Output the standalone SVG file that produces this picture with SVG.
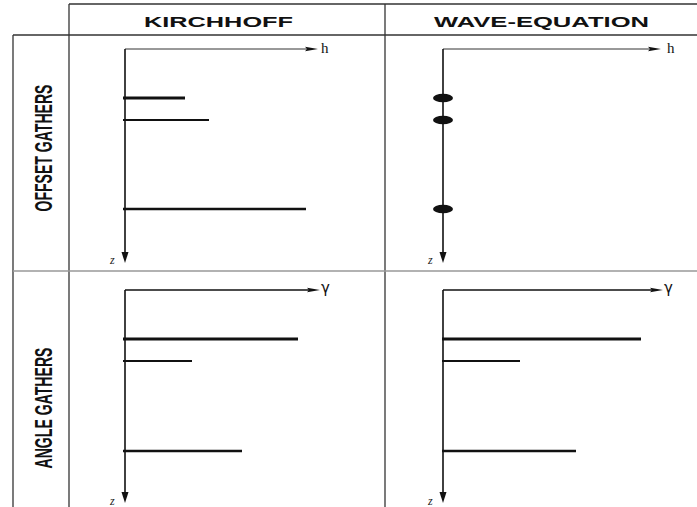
<svg xmlns="http://www.w3.org/2000/svg" width="697" height="507" viewBox="0 0 697 507">
<style>
.grid{stroke:#333;stroke-width:1.3;fill:none}
.sep{stroke:#999;stroke-width:1.3;fill:none}
.ax{stroke:#111;stroke-width:1.6;fill:none}
.axt{stroke:#333;stroke-width:1;fill:none}
.ev{stroke:#111;fill:none}
.hdr{font-family:"Liberation Sans",Arial,sans-serif;font-weight:bold;font-size:14.5px;fill:#111}
.side{font-family:"Liberation Sans",Arial,sans-serif;font-weight:bold;font-size:23px;fill:#111}
.lab{font-family:"Liberation Serif","Times New Roman",serif;font-size:15px;fill:#111}
.lg{font-family:"DejaVu Sans",sans-serif;font-size:15px;fill:#111}
.lz{font-family:"Liberation Serif","Times New Roman",serif;font-style:italic;font-size:12px;fill:#222}
.head{fill:#111}
</style>
<g id="grid">
<line class="grid" x1="69" y1="4" x2="697" y2="4"/>
<line class="grid" x1="13" y1="35" x2="697" y2="35"/>
<line class="grid" x1="13" y1="35" x2="13" y2="507"/>
<line class="grid" x1="69" y1="4" x2="69" y2="507"/>
<line class="grid" x1="385" y1="4" x2="385" y2="507"/>
<line class="sep" x1="13" y1="271" x2="697" y2="271"/>
</g>
<g id="headers">
<text class="hdr" x="144" y="27" textLength="149" lengthAdjust="spacingAndGlyphs">KIRCHHOFF</text>
<text class="hdr" x="434" y="27" textLength="215" lengthAdjust="spacingAndGlyphs">WAVE-EQUATION</text>
<text class="side" transform="translate(52,148) rotate(-90)" text-anchor="middle" textLength="127" lengthAdjust="spacingAndGlyphs">OFFSET GATHERS</text>
<text class="side" transform="translate(52,408) rotate(-90)" text-anchor="middle" textLength="121" lengthAdjust="spacingAndGlyphs">ANGLE GATHERS</text>
</g>
<g id="kirchhoff-offset">
<line class="axt" x1="125" y1="49" x2="308" y2="49"/>
<polygon class="head" points="305,46.8 318,49 305,51.2 307,49"/>
<text class="lab" x="321" y="53">h</text>
<line class="ax" x1="125" y1="49" x2="125" y2="254"/>
<polygon class="head" points="121.5,252 128.5,252 125,263"/>
<text class="lz" x="110" y="264">z</text>
<line class="ev" stroke-width="3" x1="123" y1="98" x2="185" y2="98"/>
<line class="ev" stroke-width="2" x1="123" y1="120" x2="209" y2="120"/>
<line class="ev" stroke-width="2.5" x1="123" y1="209" x2="306" y2="209"/>
</g>
<g id="wave-offset">
<line class="axt" x1="443" y1="49" x2="651" y2="49"/>
<polygon class="head" points="648,46.8 661,49 648,51.2 650,49"/>
<text class="lab" x="667" y="53">h</text>
<line class="ax" x1="443" y1="49" x2="443" y2="254"/>
<polygon class="head" points="439.5,252 446.5,252 443,263"/>
<text class="lz" x="428" y="264">z</text>
<ellipse class="head" cx="443" cy="98" rx="10" ry="4.3"/>
<ellipse class="head" cx="443" cy="120" rx="10" ry="4.3"/>
<ellipse class="head" cx="443" cy="209" rx="10" ry="4.3"/>
</g>
<g id="kirchhoff-angle">
<line class="ax" x1="125" y1="290" x2="310" y2="290"/>
<polygon class="head" points="307,287.8 320,290 307,292.2 309,290"/>
<text class="lg" x="321" y="293">γ</text>
<line class="ax" x1="125" y1="290" x2="125" y2="494"/>
<polygon class="head" points="121.5,492 128.5,492 125,503"/>
<text class="lz" x="110" y="505">z</text>
<line class="ev" stroke-width="3" x1="123" y1="339" x2="298" y2="339"/>
<line class="ev" stroke-width="2" x1="123" y1="361" x2="192" y2="361"/>
<line class="ev" stroke-width="2.5" x1="123" y1="451" x2="242" y2="451"/>
</g>
<g id="wave-angle">
<line class="ax" x1="443" y1="290" x2="653" y2="290"/>
<polygon class="head" points="650,287.8 663,290 650,292.2 652,290"/>
<text class="lg" x="664" y="293">γ</text>
<line class="ax" x1="443" y1="290" x2="443" y2="494"/>
<polygon class="head" points="439.5,492 446.5,492 443,503"/>
<text class="lz" x="428" y="505">z</text>
<line class="ev" stroke-width="3" x1="442" y1="339" x2="641" y2="339"/>
<line class="ev" stroke-width="2" x1="442" y1="361" x2="520" y2="361"/>
<line class="ev" stroke-width="2.5" x1="442" y1="451" x2="576" y2="451"/>
</g>
</svg>
